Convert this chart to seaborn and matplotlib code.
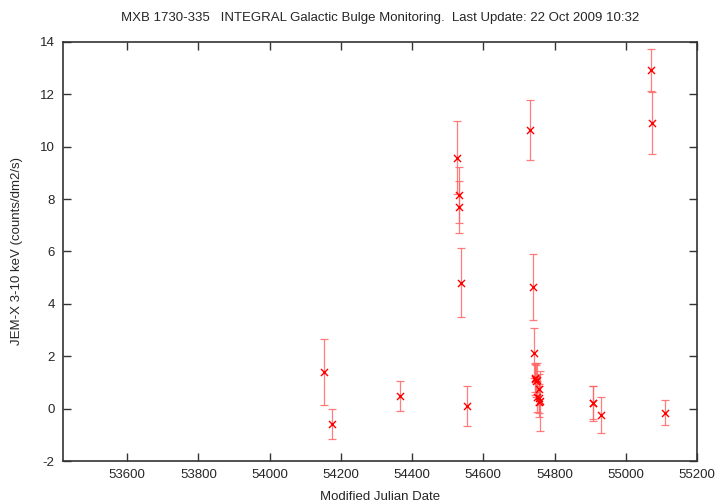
import matplotlib
matplotlib.use("Agg")
import matplotlib.pyplot as plt
import seaborn as sns
import pandas as pd

mjd = [54154, 54175, 54366, 54527, 54533, 54533, 54537, 54554,
       54731, 54739, 54741, 54744, 54745, 54748, 54750, 54752,
       54755, 54756, 54757, 54759, 54907, 54908, 54931, 55071,
       55075, 55110]
rate = [1.40, -0.60, 0.48, 9.58, 8.15, 7.70, 4.81, 0.10,
        10.64, 4.63, 2.11, 1.18, 1.12, 1.05, 0.46, 1.09,
        0.74, 0.40, 0.27, 0.30, 0.21, 0.23, -0.25, 12.93,
        10.92, -0.15]
err = [1.27, 0.57, 0.58, 1.40, 1.08, 0.98, 1.31, 0.77,
       1.14, 1.26, 0.95, 0.55, 0.60, 0.62, 0.60, 0.65,
       0.60, 0.55, 0.60, 1.15, 0.67, 0.62, 0.68, 0.80,
       1.18, 0.49]

title = "MXB 1730-335   INTEGRAL Galactic Bulge Monitoring.  Last Update: 22 Oct 2009 10:32"
xticks = [53600, 53800, 54000, 54200, 54400, 54600, 54800, 55000, 55200]
yticks = [-2, 0, 2, 4, 6, 8, 10, 12, 14]

df = pd.DataFrame({"mjd": mjd, "rate": rate, "err": err})

sns.set_style("ticks")
plt.rcParams["font.family"] = ["Liberation Sans", "DejaVu Sans"]

fig = plt.figure(figsize=(7.2, 5.04), dpi=100)
ax = fig.add_axes([63 / 720, 1 - 461 / 504, (697 - 63) / 720, (461 - 42) / 504])

ax.errorbar(df["mjd"], df["rate"], yerr=df["err"], fmt="none",
            ecolor="#ff6666", elinewidth=0.9, capsize=3, capthick=0.9, alpha=0.85, zorder=2)
sns.scatterplot(data=df, x="mjd", y="rate", ax=ax, marker="x", color="#ff0000",
                s=26, linewidth=1.0, zorder=3, legend=False)

ax.set_xlim(53420, 55200)
ax.set_ylim(-2, 14)
ax.set_xticks(xticks)
ax.set_yticks(yticks)
ax.set_xticklabels([str(v) for v in xticks], fontsize=9.5)
ax.set_yticklabels([str(v) for v in yticks], fontsize=9.5)
ax.tick_params(direction="in", length=6, width=1, top=True, right=True, color="#333333", pad=6)
for sp in ax.spines.values():
    sp.set_visible(True)
    sp.set_color("#333333")
    sp.set_linewidth(1.2)

ax.set_xlabel("Modified Julian Date", fontsize=9.5, labelpad=7)
ax.set_ylabel("JEM-X 3-10 keV (counts/dm2/s)", fontsize=9.5, labelpad=12)
ax.set_title(title, fontsize=9.5, pad=15)

fig.savefig("out.png", dpi=100)
